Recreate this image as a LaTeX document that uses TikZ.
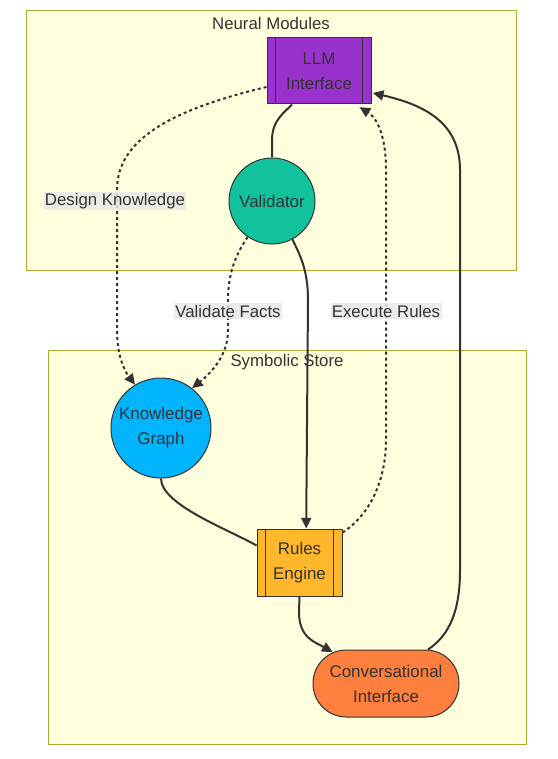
\documentclass[tikz,border=0pt]{standalone}
\usepackage{fontspec}
\setmainfont{Liberation Sans}
\usetikzlibrary{arrows.meta,calc}
\definecolor{txt}{HTML}{333333}
\definecolor{clfill}{HTML}{FFFFDE}
\definecolor{cldraw}{HTML}{AAAA33}
\definecolor{purp}{HTML}{9932CC}
\definecolor{teal}{HTML}{12C29C}
\definecolor{sky}{HTML}{00B4FF}
\definecolor{amber}{HTML}{FFB72B}
\definecolor{coral}{HTML}{FF7F3F}
\definecolor{lblbg}{HTML}{E8E8E8}
\tikzset{
  cluster/.style={draw=cldraw,fill=clfill,line width=0.75pt},
  cltitle/.style={text=txt,font=\fontsize{12.6}{14}\selectfont,inner sep=0pt},
  basenode/.style={draw=txt,line width=0.75pt,text=txt,align=center,
     font=\fontsize{12.7}{18.75}\selectfont,inner sep=0pt},
  subr/.style={basenode,rectangle},
  circ/.style={basenode,circle},
  stad/.style={basenode,rectangle,rounded corners=25pt},
  edge/.style={draw=txt,line width=1.5pt},
  dotedge/.style={edge,dash pattern=on 2.25pt off 2.25pt},
  arr/.style={-{Triangle[length=8pt,width=7.5pt]}},
  lbl/.style={fill=lblbg,fill opacity=0.85,text opacity=1,text=txt,
     font=\fontsize{12.6}{14}\selectfont,inner sep=1pt}
}
\begin{document}
\begin{tikzpicture}[x=0.75pt,y=-0.75pt]
\useasboundingbox (0,0) rectangle (557,759);
% clusters
\path[cluster] (26,11) rectangle (516,270);
\node[cltitle] (t1) at (271,23) {Neural Modules};
\path[cluster] (48,350) rectangle (526,744);
\node[cltitle] (t2) at (287,362) {Symbolic Store};
% nodes
\node[subr,fill=purp,minimum width=78pt,minimum height=49.5pt] (llm) at (319,71) {LLM\\Interface};
\draw[txt,line width=0.75pt] ([xshift=6.75pt]llm.north west) -- ([xshift=6.75pt]llm.south west);
\draw[txt,line width=0.75pt] ([xshift=-6.75pt]llm.north east) -- ([xshift=-6.75pt]llm.south east);
\node[circ,fill=teal,minimum size=64.5pt] (val) at (272,201) {Validator};
\node[circ,fill=sky,minimum size=75pt] (kg) at (161,428) {Knowledge\\Graph};
\node[subr,fill=amber,minimum width=63.75pt,minimum height=50.25pt] (rules) at (299.5,562.5) {Rules\\Engine};
\draw[txt,line width=0.75pt] ([xshift=6.75pt]rules.north west) -- ([xshift=6.75pt]rules.south west);
\draw[txt,line width=0.75pt] ([xshift=-6.75pt]rules.north east) -- ([xshift=-6.75pt]rules.south east);
\node[stad,fill=coral,minimum width=109.5pt,minimum height=50.25pt] (conv) at (386,683.5) {Conversational\\Interface};
% connectors
\draw[edge] (val.north) -- (272,140) .. controls (272,120) and (285,112) .. ([xshift=-20.25pt]llm.south);
\draw[dotedge,arr] ([yshift=-12pt]llm.west) .. controls (170,110) and (117,140) .. (117,190) -- (117,330) .. controls (117,355) and (124,370) .. (kg.121);
\draw[dotedge,arr] (val.-124) .. controls (235,255) and (228,275) .. (228,300) -- (228,330) .. controls (228,355) and (212,372) .. (kg.52);
\draw[edge,arr] (val.-62) .. controls (300,255) and (308,270) .. (308,300) -- ([xshift=5pt]rules.north);
\draw[dotedge,arr] ([yshift=-3pt]rules.north east) .. controls (370,515) and (386,480) .. (386,440) -- (386,170) .. controls (386,130) and (374,116) .. ([xshift=-9pt,yshift=-2pt]llm.south east);
\draw[edge] (kg.south) .. controls (161,505) and (230,530) .. ([yshift=12.75pt]rules.west);
\draw[edge,arr] (rules.south) -- (299,612) .. controls (299,638) and (315,642) .. ([xshift=-40pt,yshift=-2pt]conv.north);
\draw[edge,arr] ([xshift=31.5pt]conv.north) .. controls (450,635) and (460,610) .. (460,570) -- (460,170) .. controls (460,120) and (420,104) .. ([yshift=-16.5pt,xshift=1pt]llm.east);
% labels
\node[lbl] (l1) at (115,201) {Design Knowledge};
\node[lbl] (l2) at (228,311) {Validate Facts};
\node[lbl] (l3) at (386,311) {Execute Rules};
\end{tikzpicture}
\end{document}
